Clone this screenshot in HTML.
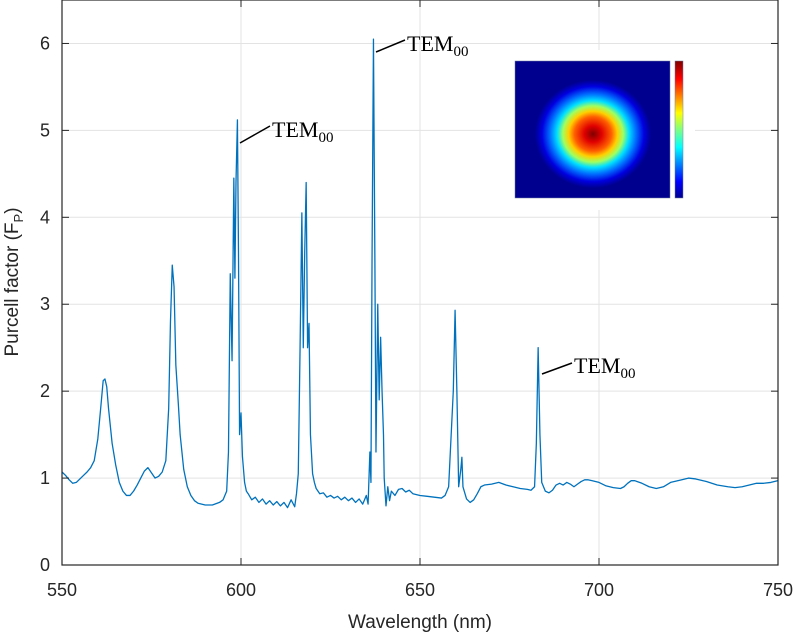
<!DOCTYPE html>
<html><head><meta charset="utf-8"><style>
html,body{margin:0;padding:0;background:#fff;width:795px;height:636px;overflow:hidden}
svg text{font-family:"Liberation Sans",sans-serif;fill:#262626}
</style></head><body>
<svg id="chart" width="795" height="636" viewBox="0 0 795 636" xmlns="http://www.w3.org/2000/svg">
<defs>
<radialGradient id="jet" cx="0.5" cy="0.5" r="0.5">
<stop offset="0" stop-color="#800000"/>
<stop offset="0.15" stop-color="#e00000"/>
<stop offset="0.32" stop-color="#ff6000"/>
<stop offset="0.42" stop-color="#ffd000"/>
<stop offset="0.52" stop-color="#a0ff60"/>
<stop offset="0.62" stop-color="#00e0ff"/>
<stop offset="0.74" stop-color="#0070ff"/>
<stop offset="0.88" stop-color="#0000e0"/>
<stop offset="1" stop-color="#000090"/>
</radialGradient>
<linearGradient id="cbar" x1="0" y1="1" x2="0" y2="0">
<stop offset="0" stop-color="#000090"/>
<stop offset="0.12" stop-color="#0000ff"/>
<stop offset="0.37" stop-color="#00ffff"/>
<stop offset="0.5" stop-color="#80ff80"/>
<stop offset="0.62" stop-color="#ffff00"/>
<stop offset="0.87" stop-color="#ff0000"/>
<stop offset="1" stop-color="#800000"/>
</linearGradient>
</defs>
<g id="grid"></g>
<g id="series"></g>
<g id="axes"></g>
<g>
<line x1="240" y1="143" x2="270" y2="126" stroke="#000" stroke-width="1.5"/>
<text x="272" y="137" style="font-family:'Liberation Serif',serif;font-size:22px;fill:#000">TEM<tspan font-size="15" dy="5">00</tspan></text>
</g>
<g>
<line x1="376" y1="52" x2="405" y2="40" stroke="#000" stroke-width="1.5"/>
<text x="407" y="51" style="font-family:'Liberation Serif',serif;font-size:22px;fill:#000">TEM<tspan font-size="15" dy="5">00</tspan></text>
</g>
<g>
<line x1="542" y1="374" x2="572" y2="363" stroke="#000" stroke-width="1.5"/>
<text x="574" y="373" style="font-family:'Liberation Serif',serif;font-size:22px;fill:#000">TEM<tspan font-size="15" dy="5">00</tspan></text>
</g>
<g>
<rect x="500" y="50" width="195" height="160" fill="#fff"/>
<rect x="515" y="61" width="155" height="137" fill="#00008f" stroke="#7080a0" stroke-width="0.5"/>
<ellipse cx="593" cy="134" rx="58" ry="54" fill="url(#jet)"/>
<rect x="675" y="61" width="8" height="137" fill="url(#cbar)" stroke="#7080a0" stroke-width="0.5"/>
</g>
<text x="420" y="628" text-anchor="middle" font-size="19">Wavelength (nm)</text>
<text transform="translate(18,282) rotate(-90)" text-anchor="middle" font-size="19">Purcell factor (F<tspan font-size="13" dy="5">P</tspan><tspan dy="-5">)</tspan></text>
</svg>
<script>
const xTicks=[550,600,650,700,750];
const yTicks=[0,1,2,3,4,5,6];
const wavelengths=[550,551,552,553,554,555,556,557,558,559,560,560.8,561.5,562,562.5,563,564,565,566,567,568,569,570,571,572,573,574,575,576,577,578,579,579.8,580.3,580.8,581.3,581.8,582.5,583,584,585,586,587,588,590,592,594,595,596,596.5,597,597.5,598,598.3,598.6,599,599.3,599.6,600,600.4,601,601.5,602,603,604,605,606,607,608,609,610,611,612,613,614,615,615.5,616,616.5,617,617.4,617.8,618.2,618.6,619,619.4,620,620.5,621,622,623,624,625,626,627,628,629,630,631,632,633,634,635,635.5,636,636.3,636.6,637,637.4,637.7,638.2,638.6,639,639.4,639.8,640,640.5,641,641.5,642,643,644,645,646,647,648,650,652,654,656,657,658,659.3,659.8,660.3,660.8,661.4,661.7,662,663,664,665,666,667,668,670,672,674,676,678,680,681,682,682.5,683,683.5,684,685,686,687,688,689,690,691,692,693,694,695,696,697,698,700,702,704,706,707,708,709,710,712,714,716,718,720,723,725,727,730,733,736,738,740,742,744,746,748,750];
const purcell=[1.07,1.03,0.98,0.94,0.95,0.99,1.03,1.07,1.12,1.2,1.45,1.8,2.12,2.14,2.05,1.8,1.4,1.15,0.95,0.85,0.8,0.8,0.85,0.92,1.0,1.08,1.12,1.06,1.0,1.02,1.07,1.2,1.8,2.8,3.45,3.2,2.3,1.85,1.5,1.1,0.9,0.8,0.74,0.71,0.69,0.69,0.72,0.75,0.85,1.3,3.35,2.35,4.45,3.3,4.4,5.12,3.6,1.5,1.75,1.25,0.95,0.85,0.82,0.75,0.78,0.72,0.76,0.7,0.74,0.69,0.73,0.68,0.72,0.66,0.75,0.67,0.82,1.05,2.5,4.05,2.5,3.6,4.4,2.5,2.78,1.5,1.05,0.95,0.88,0.82,0.83,0.78,0.8,0.77,0.79,0.75,0.78,0.74,0.77,0.72,0.76,0.7,0.8,0.7,1.3,0.95,3.5,6.05,3.5,1.3,3.0,1.9,2.62,2.0,1.5,1.0,0.68,0.9,0.74,0.85,0.8,0.87,0.88,0.84,0.86,0.82,0.8,0.79,0.78,0.77,0.8,0.9,2.0,2.93,2.0,0.9,1.1,1.24,0.9,0.76,0.72,0.75,0.82,0.9,0.92,0.93,0.95,0.92,0.9,0.88,0.87,0.86,0.9,1.4,2.5,1.5,0.95,0.85,0.83,0.86,0.92,0.94,0.92,0.95,0.93,0.9,0.93,0.96,0.98,0.98,0.97,0.95,0.91,0.89,0.88,0.9,0.94,0.97,0.97,0.94,0.9,0.88,0.9,0.95,0.98,1.0,0.99,0.96,0.92,0.9,0.89,0.9,0.92,0.94,0.94,0.95,0.97];
const X0=62,X1=778,Y0=565,YT=0,xmin=550,xmax=750,ymin=0,ymax=6.5;
function sx(v){return X0+(v-xmin)/(xmax-xmin)*(X1-X0);}
function sy(v){return Y0-(v-ymin)/(ymax-ymin)*(Y0-YT);}
const NS='http://www.w3.org/2000/svg';
function mk(t,a,p){const e=document.createElementNS(NS,t);for(const k in a)e.setAttribute(k,a[k]);p.appendChild(e);return e;}
const grid=document.getElementById('grid'),axes=document.getElementById('axes'),series=document.getElementById('series');
xTicks.forEach(t=>{
 const g=mk('line',{x1:sx(t),x2:sx(t),y1:YT,y2:Y0,stroke:'#e3e3e3','stroke-width':1},grid);
 
 
 mk('line',{x1:sx(t),x2:sx(t),y1:Y0,y2:Y0-7,stroke:'#262626','stroke-width':1},axes);
 mk('line',{x1:sx(t),x2:sx(t),y1:YT,y2:YT+7,stroke:'#262626','stroke-width':1},axes);
 const l=mk('text',{x:sx(t),y:596,'text-anchor':'middle','font-size':18},axes);
 l.textContent=t;
 
 
});
yTicks.forEach(t=>{
 const g=mk('line',{x1:X0,x2:X1,y1:sy(t),y2:sy(t),stroke:'#e3e3e3','stroke-width':1},grid);
 
 
 mk('line',{x1:X0,x2:X0+7,y1:sy(t),y2:sy(t),stroke:'#262626','stroke-width':1},axes);
 mk('line',{x1:X1,x2:X1-7,y1:sy(t),y2:sy(t),stroke:'#262626','stroke-width':1},axes);
 const l=mk('text',{x:50,y:sy(t)+6,'text-anchor':'end','font-size':18},axes);
 l.textContent=t;
 
 
});
const box=mk('rect',{x:X0,y:YT,width:X1-X0,height:Y0-YT,fill:'none',stroke:'#262626','stroke-width':1.2},axes);


let d='';
wavelengths.forEach((w,i)=>{d+=(i?'L':'M')+sx(w).toFixed(2)+','+sy(purcell[i]).toFixed(2);});
const p=mk('path',{d:d,fill:'none',stroke:'#0072bd','stroke-width':1.3,'stroke-linejoin':'round'},series);


</script>
</body></html>
